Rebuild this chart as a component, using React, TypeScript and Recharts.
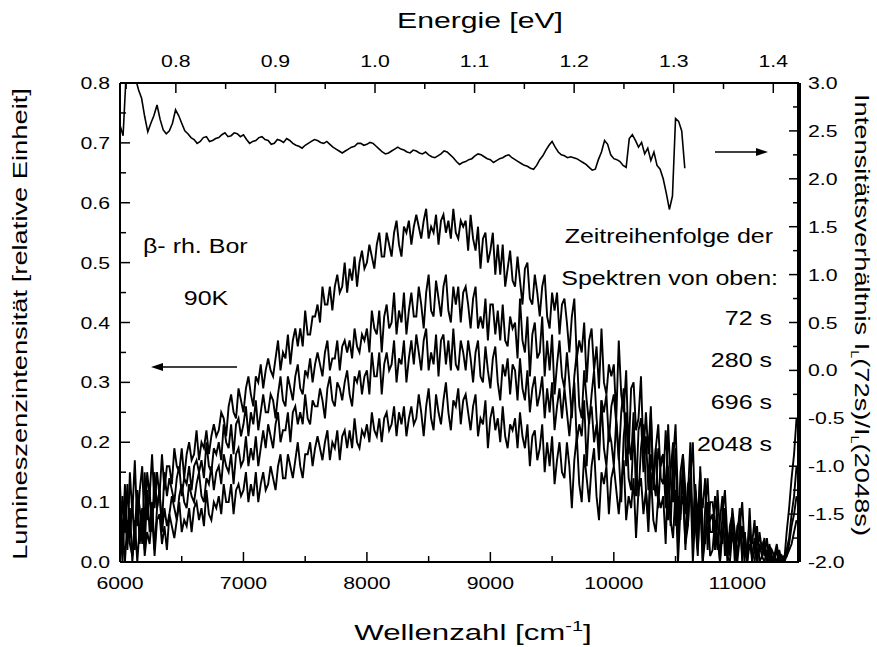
import { Line, LineChart, XAxis, YAxis } from 'recharts'

// wavenumber grid of the spectra (cm^-1)
const WN_START = 6000
const WN_STEP = 20

// luminescence spectra, newest first (relative units), one row = 400 cm^-1
const spec72s = [
  0.13, 0.03, 0.13, 0.02, 0.15, 0.08, 0.17, 0.06, 0.12, 0.16, 0.05, 0.15, 0.11, 0.18, 0.09, 0.15, 0.11, 0.18, 0.12, 0.16,
  0.16, 0.13, 0.19, 0.16, 0.15, 0.19, 0.14, 0.18, 0.2, 0.17, 0.18, 0.22, 0.17, 0.2, 0.19, 0.22, 0.18, 0.21, 0.23, 0.21,
  0.22, 0.25, 0.24, 0.21, 0.26, 0.28, 0.25, 0.24, 0.29, 0.27, 0.25, 0.29, 0.31, 0.28, 0.26, 0.31, 0.3, 0.33, 0.29, 0.32,
  0.34, 0.32, 0.31, 0.34, 0.37, 0.32, 0.35, 0.34, 0.38, 0.33, 0.37, 0.39, 0.36, 0.39, 0.36, 0.42, 0.38, 0.38, 0.41, 0.41,
  0.43, 0.4, 0.46, 0.43, 0.43, 0.46, 0.42, 0.46, 0.48, 0.45, 0.46, 0.5, 0.45, 0.49, 0.47, 0.51, 0.46, 0.5, 0.52, 0.49,
  0.5, 0.53, 0.51, 0.49, 0.53, 0.55, 0.51, 0.51, 0.55, 0.53, 0.51, 0.55, 0.57, 0.53, 0.51, 0.56, 0.55, 0.57, 0.53, 0.56,
  0.58, 0.56, 0.54, 0.57, 0.59, 0.54, 0.56, 0.55, 0.58, 0.53, 0.57, 0.58, 0.55, 0.57, 0.54, 0.59, 0.55, 0.54, 0.57, 0.56,
  0.57, 0.52, 0.58, 0.54, 0.52, 0.56, 0.49, 0.54, 0.55, 0.5, 0.52, 0.55, 0.48, 0.53, 0.48, 0.53, 0.46, 0.49, 0.52, 0.47,
  0.46, 0.51, 0.47, 0.43, 0.49, 0.5, 0.44, 0.43, 0.48, 0.45, 0.41, 0.46, 0.48, 0.41, 0.39, 0.45, 0.42, 0.45, 0.38, 0.43,
  0.44, 0.4, 0.35, 0.41, 0.44, 0.34, 0.37, 0.35, 0.4, 0.3, 0.37, 0.39, 0.32, 0.36, 0.29, 0.39, 0.3, 0.28, 0.33, 0.31,
  0.33, 0.24, 0.37, 0.28, 0.25, 0.32, 0.18, 0.29, 0.3, 0.22, 0.24, 0.31, 0.18, 0.25, 0.18, 0.26, 0.12, 0.19, 0.23, 0.14,
  0.13, 0.22, 0.15, 0.06, 0.17, 0.23, 0.1, 0.07, 0.18, 0.12, 0.06, 0.14, 0.2, 0.07, 0.01, 0.12, 0.09, 0.14, 0.02, 0.1,
  0.1, 0.06, 0.02, 0.07, 0.11, 0.01, 0.05, 0.02, 0.08, 0.0, 0.06, 0.07, 0.01, 0.05, 0.0, 0.09, 0.0, 0.0, 0.04, 0.02,
  0.03, 0.01, 0.04, 0.0, 0.02, 0.01, 0.03, 0.0, 0.01, 0.0, 0.05, 0.09, 0.14, 0.18, 0.24,
]
const spec280s = [
  0.02, 0.11, 0.05, 0.13, 0.04, 0.1, 0.02, 0.12, 0.09, 0.03, 0.15, 0.07, 0.12, 0.05, 0.15, 0.09, 0.12, 0.06, 0.15, 0.11,
  0.14, 0.12, 0.1, 0.14, 0.16, 0.11, 0.14, 0.13, 0.16, 0.12, 0.16, 0.17, 0.15, 0.17, 0.14, 0.2, 0.16, 0.15, 0.19, 0.18,
  0.2, 0.17, 0.23, 0.2, 0.19, 0.23, 0.18, 0.23, 0.24, 0.21, 0.23, 0.26, 0.21, 0.25, 0.23, 0.27, 0.22, 0.25, 0.28, 0.25,
  0.25, 0.28, 0.27, 0.24, 0.28, 0.31, 0.27, 0.26, 0.31, 0.29, 0.27, 0.31, 0.33, 0.29, 0.28, 0.32, 0.31, 0.34, 0.3, 0.33,
  0.35, 0.33, 0.31, 0.35, 0.37, 0.32, 0.34, 0.34, 0.37, 0.32, 0.36, 0.37, 0.35, 0.37, 0.34, 0.39, 0.36, 0.35, 0.38, 0.37,
  0.39, 0.35, 0.42, 0.39, 0.38, 0.42, 0.35, 0.41, 0.43, 0.39, 0.4, 0.45, 0.38, 0.42, 0.4, 0.45, 0.38, 0.42, 0.45, 0.41,
  0.41, 0.46, 0.43, 0.39, 0.45, 0.48, 0.42, 0.41, 0.47, 0.44, 0.41, 0.46, 0.48, 0.42, 0.4, 0.46, 0.43, 0.46, 0.4, 0.45,
  0.46, 0.43, 0.39, 0.44, 0.46, 0.39, 0.41, 0.39, 0.44, 0.37, 0.43, 0.43, 0.38, 0.42, 0.37, 0.43, 0.37, 0.36, 0.41, 0.39,
  0.4, 0.34, 0.44, 0.37, 0.35, 0.41, 0.31, 0.38, 0.4, 0.34, 0.35, 0.41, 0.31, 0.37, 0.32, 0.38, 0.28, 0.33, 0.37, 0.31,
  0.29, 0.35, 0.3, 0.24, 0.31, 0.35, 0.26, 0.24, 0.32, 0.27, 0.23, 0.28, 0.32, 0.24, 0.19, 0.27, 0.25, 0.28, 0.2, 0.26,
  0.28, 0.23, 0.17, 0.25, 0.29, 0.16, 0.21, 0.17, 0.25, 0.11, 0.22, 0.24, 0.15, 0.21, 0.12, 0.25, 0.14, 0.11, 0.19, 0.16,
  0.18, 0.09, 0.23, 0.14, 0.1, 0.19, 0.04, 0.15, 0.18, 0.08, 0.11, 0.2, 0.04, 0.13, 0.07, 0.15, 0.0, 0.09, 0.14, 0.05,
  0.05, 0.11, 0.07, 0.0, 0.08, 0.12, 0.04, 0.01, 0.09, 0.05, 0.01, 0.06, 0.1, 0.02, 0.0, 0.05, 0.03, 0.07, 0.0, 0.05,
  0.02, 0.04, 0.0, 0.03, 0.01, 0.0, 0.02, 0.0, 0.01, 0.0, 0.02, 0.04, 0.08, 0.11, 0.16,
]
const spec696s = [
  0.07, 0.0, 0.09, 0.03, 0.09, 0.0, 0.06, 0.11, 0.03, 0.08, 0.02, 0.12, 0.05, 0.1, 0.02, 0.09, 0.12, 0.05, 0.09, 0.06,
  0.08, 0.11, 0.09, 0.07, 0.11, 0.13, 0.1, 0.09, 0.13, 0.11, 0.1, 0.13, 0.15, 0.11, 0.1, 0.14, 0.13, 0.16, 0.12, 0.15,
  0.16, 0.13, 0.18, 0.16, 0.15, 0.18, 0.13, 0.18, 0.19, 0.16, 0.17, 0.21, 0.16, 0.19, 0.17, 0.21, 0.16, 0.19, 0.22, 0.19,
  0.23, 0.21, 0.19, 0.23, 0.25, 0.2, 0.22, 0.22, 0.25, 0.2, 0.25, 0.26, 0.23, 0.25, 0.23, 0.28, 0.24, 0.23, 0.27, 0.26,
  0.26, 0.29, 0.27, 0.24, 0.29, 0.31, 0.27, 0.26, 0.3, 0.29, 0.27, 0.3, 0.32, 0.28, 0.26, 0.31, 0.3, 0.32, 0.28, 0.31,
  0.32, 0.28, 0.35, 0.31, 0.31, 0.35, 0.28, 0.33, 0.35, 0.32, 0.33, 0.37, 0.3, 0.34, 0.33, 0.37, 0.3, 0.34, 0.37, 0.33,
  0.38, 0.35, 0.32, 0.37, 0.39, 0.32, 0.35, 0.33, 0.38, 0.31, 0.37, 0.38, 0.33, 0.37, 0.32, 0.39, 0.33, 0.32, 0.37, 0.35,
  0.32, 0.37, 0.34, 0.3, 0.35, 0.37, 0.31, 0.3, 0.36, 0.32, 0.29, 0.34, 0.36, 0.3, 0.27, 0.33, 0.31, 0.34, 0.28, 0.33,
  0.32, 0.27, 0.34, 0.29, 0.27, 0.32, 0.25, 0.29, 0.31, 0.26, 0.28, 0.31, 0.24, 0.29, 0.25, 0.3, 0.22, 0.26, 0.29, 0.24,
  0.29, 0.25, 0.21, 0.26, 0.3, 0.2, 0.23, 0.21, 0.27, 0.16, 0.24, 0.26, 0.2, 0.23, 0.17, 0.27, 0.19, 0.16, 0.22, 0.2,
  0.16, 0.24, 0.18, 0.1, 0.21, 0.25, 0.14, 0.12, 0.21, 0.16, 0.11, 0.19, 0.23, 0.12, 0.07, 0.18, 0.14, 0.19, 0.09, 0.17,
  0.18, 0.13, 0.07, 0.15, 0.2, 0.06, 0.11, 0.08, 0.15, 0.02, 0.13, 0.14, 0.06, 0.12, 0.03, 0.16, 0.05, 0.03, 0.1, 0.07,
  0.08, 0.02, 0.12, 0.05, 0.03, 0.09, 0.0, 0.06, 0.08, 0.02, 0.04, 0.09, 0.0, 0.05, 0.01, 0.07, 0.0, 0.02, 0.06, 0.0,
  0.01, 0.03, 0.0, 0.02, 0.0, 0.01, 0.0, 0.02, 0.0, 0.01, 0.01, 0.03, 0.06, 0.08, 0.11,
]
const spec2048s = [
  0.01, 0.06, 0.0, 0.07, 0.03, 0.01, 0.07, 0.0, 0.06, 0.09, 0.01, 0.05, 0.03, 0.08, 0.01, 0.07, 0.08, 0.03, 0.06, 0.02,
  0.08, 0.06, 0.04, 0.07, 0.1, 0.05, 0.07, 0.06, 0.09, 0.05, 0.09, 0.1, 0.07, 0.09, 0.06, 0.12, 0.08, 0.07, 0.1, 0.09,
  0.11, 0.08, 0.13, 0.1, 0.1, 0.13, 0.08, 0.12, 0.13, 0.11, 0.12, 0.15, 0.1, 0.13, 0.11, 0.15, 0.1, 0.13, 0.15, 0.12,
  0.13, 0.16, 0.14, 0.12, 0.16, 0.18, 0.14, 0.14, 0.18, 0.16, 0.14, 0.17, 0.2, 0.16, 0.14, 0.18, 0.18, 0.2, 0.16, 0.19,
  0.21, 0.19, 0.17, 0.2, 0.22, 0.17, 0.2, 0.19, 0.22, 0.17, 0.21, 0.22, 0.19, 0.22, 0.19, 0.24, 0.2, 0.19, 0.22, 0.21,
  0.23, 0.2, 0.25, 0.22, 0.21, 0.24, 0.2, 0.24, 0.25, 0.22, 0.23, 0.26, 0.21, 0.25, 0.23, 0.26, 0.21, 0.24, 0.26, 0.23,
  0.24, 0.28, 0.25, 0.21, 0.26, 0.29, 0.24, 0.22, 0.28, 0.25, 0.23, 0.27, 0.3, 0.25, 0.22, 0.27, 0.26, 0.29, 0.23, 0.27,
  0.28, 0.25, 0.22, 0.26, 0.28, 0.21, 0.24, 0.23, 0.27, 0.19, 0.24, 0.26, 0.22, 0.24, 0.2, 0.26, 0.21, 0.19, 0.23, 0.22,
  0.24, 0.19, 0.25, 0.21, 0.19, 0.23, 0.16, 0.21, 0.22, 0.17, 0.19, 0.23, 0.15, 0.2, 0.16, 0.21, 0.13, 0.17, 0.2, 0.15,
  0.14, 0.2, 0.16, 0.09, 0.17, 0.21, 0.13, 0.1, 0.18, 0.14, 0.1, 0.16, 0.19, 0.11, 0.07, 0.15, 0.13, 0.16, 0.08, 0.14,
  0.16, 0.12, 0.08, 0.13, 0.17, 0.07, 0.11, 0.09, 0.14, 0.04, 0.12, 0.14, 0.08, 0.12, 0.05, 0.15, 0.07, 0.05, 0.11, 0.09,
  0.11, 0.03, 0.16, 0.07, 0.04, 0.12, 0.0, 0.09, 0.11, 0.03, 0.06, 0.14, 0.0, 0.08, 0.02, 0.1, 0.0, 0.04, 0.09, 0.01,
  0.02, 0.07, 0.04, 0.0, 0.05, 0.07, 0.01, 0.0, 0.05, 0.02, 0.0, 0.04, 0.06, 0.0, 0.0, 0.03, 0.01, 0.04, 0.0, 0.03,
  0.01, 0.0, 0.02, 0.0, 0.01, 0.0, 0.0, 0.01, 0.0, 0.0, 0.01, 0.02, 0.03, 0.05, 0.07,
]

// intensity ratio I_L(72s)/I_L(2048s), 25 cm^-1 grid
const RATIO_START = 6000
const RATIO_STEP = 25
const ratio = [
  2.56, 2.45, 3.1, 3.3, 3.2, 3.05, 2.93, 2.84, 2.65, 2.49, 2.58, 2.66, 2.77, 2.62, 2.51, 2.47, 2.5, 2.58, 2.72, 2.66,
  2.58, 2.5, 2.47, 2.43, 2.41, 2.37, 2.39, 2.43, 2.44, 2.39, 2.4, 2.42, 2.43, 2.46, 2.48, 2.44, 2.45, 2.48, 2.47, 2.44,
  2.46, 2.41, 2.37, 2.39, 2.4, 2.43, 2.44, 2.41, 2.4, 2.36, 2.37, 2.41, 2.4, 2.38, 2.42, 2.4, 2.37, 2.35, 2.34, 2.32,
  2.35, 2.37, 2.39, 2.41, 2.4, 2.38, 2.37, 2.39, 2.36, 2.33, 2.31, 2.29, 2.27, 2.29, 2.31, 2.33, 2.34, 2.37, 2.37, 2.35,
  2.36, 2.38, 2.37, 2.34, 2.31, 2.28, 2.26, 2.27, 2.29, 2.31, 2.33, 2.31, 2.3, 2.28, 2.27, 2.3, 2.29, 2.27, 2.26, 2.28,
  2.25, 2.23, 2.22, 2.24, 2.26, 2.29, 2.28, 2.25, 2.22, 2.18, 2.15, 2.17, 2.18, 2.2, 2.21, 2.24, 2.26, 2.25, 2.23, 2.21,
  2.2, 2.17, 2.19, 2.21, 2.22, 2.24, 2.25, 2.22, 2.2, 2.18, 2.16, 2.14, 2.13, 2.11, 2.1, 2.14, 2.2, 2.24, 2.3, 2.35,
  2.39, 2.33, 2.28, 2.25, 2.24, 2.22, 2.23, 2.22, 2.21, 2.19, 2.17, 2.15, 2.12, 2.09, 2.1, 2.2, 2.28, 2.4, 2.36, 2.25,
  2.21, 2.2, 2.18, 2.14, 2.12, 2.42, 2.46, 2.4, 2.33, 2.38, 2.26, 2.32, 2.19, 2.28, 2.14, 2.1, 2.0, 1.85, 1.68, 1.82,
  2.63, 2.6, 2.5, 2.11,
]

const EV = 8065.54 // cm^-1 per eV

const bottomTicks = [6000, 6500, 7000, 7500, 8000, 8500, 9000, 9500, 10000, 10500, 11000, 11500]
const bottomLabels = [6000, 7000, 8000, 9000, 10000, 11000]
const energyTicks = [0.75, 0.8, 0.85, 0.9, 0.95, 1.0, 1.05, 1.1, 1.15, 1.2, 1.25, 1.3, 1.35, 1.4]
const leftTicks = [0, 0.05, 0.1, 0.15, 0.2, 0.25, 0.3, 0.35, 0.4, 0.45, 0.5, 0.55, 0.6, 0.65, 0.7, 0.75, 0.8]
const rightTicks = [-2, -1.75, -1.5, -1.25, -1, -0.75, -0.5, -0.25, 0, 0.25, 0.5, 0.75, 1, 1.25, 1.5, 1.75, 2, 2.25, 2.5, 2.75, 3]

const specRows = spec72s.map((v, i) => ({
  wn: WN_START + i * WN_STEP,
  s72: v,
  s280: spec280s[i],
  s696: spec696s[i],
  s2048: spec2048s[i],
}))
const ratioRows = ratio.map((v, i) => ({ wn: RATIO_START + i * RATIO_STEP, r: v }))

const FONT = '"Liberation Sans", Arial, sans-serif'
const MAJOR = 10
const MINOR = 6

// Origin-style wide lettering
function Label({ x, y, size = 17, anchor = 'start', sx = 1.25, rot = 0, children }: {
  x: number
  y: number
  size?: number
  anchor?: 'start' | 'middle' | 'end'
  sx?: number
  rot?: number
  children: React.ReactNode
}) {
  return (
    <text
      transform={`translate(${x},${y}) rotate(${rot}) scale(${sx},1)`}
      fontSize={size}
      fontFamily={FONT}
      textAnchor={anchor}
      fill="#000"
    >
      {children}
    </text>
  )
}

const near = (a: number, b: number) => Math.abs(a - b) < 1e-6
const isStep = (v: number, step: number) => near(v / step, Math.round(v / step))

type TickProps = { x?: number; y?: number; payload?: { value: number } }

function BottomTick({ x = 0, y = 0, payload }: TickProps) {
  const v = payload?.value ?? 0
  const major = bottomLabels.some((m) => near(m, v))
  return (
    <g>
      <line x1={x} x2={x} y1={y} y2={y - (major ? MAJOR : MINOR)} stroke="#000" strokeWidth={1.5} />
      {major && <Label x={x} y={y + 27} anchor="middle">{v}</Label>}
    </g>
  )
}

function TopTick({ x = 0, y = 0, payload }: TickProps) {
  const e = (payload?.value ?? 0) / EV
  const major = isStep(e, 0.1)
  return (
    <g>
      <line x1={x} x2={x} y1={y} y2={y + (major ? MAJOR : MINOR)} stroke="#000" strokeWidth={1.5} />
      {major && <Label x={x} y={y - 16} anchor="middle">{e.toFixed(1)}</Label>}
    </g>
  )
}

function LeftTick({ x = 0, y = 0, payload }: TickProps) {
  const v = payload?.value ?? 0
  const major = isStep(v, 0.1)
  return (
    <g>
      <line x1={x} x2={x + (major ? MAJOR : MINOR)} y1={y} y2={y} stroke="#000" strokeWidth={1.5} />
      {major && <Label x={x - 10} y={y + 6} anchor="end">{v.toFixed(1)}</Label>}
    </g>
  )
}

function RightTick({ x = 0, y = 0, payload }: TickProps) {
  const v = payload?.value ?? 0
  const major = isStep(v, 0.5)
  return (
    <g>
      <line x1={x} x2={x - (major ? MAJOR : MINOR)} y1={y} y2={y} stroke="#000" strokeWidth={1.5} />
      {major && <Label x={x + 9} y={y + 6}>{v.toFixed(1)}</Label>}
    </g>
  )
}

const axisLine = { stroke: '#000', strokeWidth: 2 }

export default function App() {
  return (
    <div style={{ position: 'absolute', left: 0, top: 0, width: 877, height: 647, background: '#fff' }}>
      <LineChart width={877} height={647} data={specRows} margin={{ top: 0, right: 0, bottom: 0, left: 0 }}>
        <XAxis
          xAxisId="bottom"
          dataKey="wn"
          type="number"
          domain={[6000, 11500]}
          allowDataOverflow
          ticks={bottomTicks}
          interval={0}
          tickSize={0}
          tickMargin={0}
          tick={BottomTick}
          axisLine={axisLine}
          height={85}
        />
        <XAxis
          xAxisId="top"
          orientation="top"
          dataKey="wn"
          type="number"
          domain={[6000, 11500]}
          allowDataOverflow
          ticks={energyTicks.map((e) => e * EV)}
          interval={0}
          tickSize={0}
          tickMargin={0}
          tick={TopTick}
          axisLine={axisLine}
          height={83}
        />
        <YAxis
          yAxisId="left"
          type="number"
          domain={[0, 0.8]}
          allowDataOverflow
          ticks={leftTicks}
          interval={0}
          tickSize={0}
          tickMargin={0}
          tick={LeftTick}
          axisLine={axisLine}
          width={120}
        />
        <YAxis
          yAxisId="right"
          orientation="right"
          type="number"
          domain={[-2, 3]}
          allowDataOverflow
          ticks={rightTicks}
          interval={0}
          tickSize={0}
          tickMargin={0}
          tick={RightTick}
          axisLine={{ stroke: '#000', strokeWidth: 4 }}
          width={78}
        />
        {(['s72', 's280', 's696', 's2048'] as const).map((k) => (
          <Line
            key={k}
            xAxisId="bottom"
            yAxisId="left"
            dataKey={k}
            stroke="#000"
            strokeWidth={1.9}
            strokeLinejoin="miter"
            dot={false}
            isAnimationActive={false}
          />
        ))}
        <Line
          data={ratioRows}
          xAxisId="top"
          yAxisId="right"
          dataKey="r"
          stroke="#000"
          strokeWidth={1.6}
          dot={false}
          isAnimationActive={false}
        />
      </LineChart>

      <svg
        width={877}
        height={647}
        style={{ position: 'absolute', left: 0, top: 0, pointerEvents: 'none' }}
      >
        <Label x={480} y={28} size={22} anchor="middle" sx={1.37}>Energie [eV]</Label>
        <text
          transform="translate(473,640) scale(1.42,1)"
          fontSize={22}
          fontFamily={FONT}
          textAnchor="middle"
          fill="#000"
        >
          Wellenzahl [cm
          <tspan fontSize={14} dy={-9}>-1</tspan>
          <tspan dy={9}>]</tspan>
        </text>
        <Label x={27} y={324} size={21} anchor="middle" sx={1.3} rot={-90}>
          Lumineszenzintensität [relative Einheit]
        </Label>
        <text
          transform="translate(855,315) rotate(90) scale(1.3,1)"
          fontSize={21}
          fontFamily={FONT}
          textAnchor="middle"
          fill="#000"
        >
          Intensitätsverhältnis I
          <tspan fontSize={11} dy={4}>L</tspan>
          <tspan dy={-4}>(72s)/I</tspan>
          <tspan fontSize={11} dy={4}>L</tspan>
          <tspan dy={-4}>(2048s)</tspan>
        </text>

        <Label x={143} y={253} size={20}>β- rh. Bor</Label>
        <Label x={206} y={305} size={20} anchor="middle">90K</Label>

        <Label x={773} y={243} size={20} anchor="end">Zeitreihenfolge der</Label>
        <Label x={778} y={285} size={20} anchor="end">Spektren von oben:</Label>
        <Label x={772} y={325} size={20} anchor="end">72 s</Label>
        <Label x={772} y={367} size={20} anchor="end">280 s</Label>
        <Label x={772} y={409} size={20} anchor="end">696 s</Label>
        <Label x={772} y={451} size={20} anchor="end">2048 s</Label>

        {/* axis-assignment arrows */}
        <line x1={237} y1={367} x2={160} y2={367} stroke="#000" strokeWidth={1.5} />
        <polygon points="151,367 163,363 163,371" fill="#000" />
        <line x1={715} y1={152} x2={758} y2={152} stroke="#000" strokeWidth={1.5} />
        <polygon points="768,152 756,148 756,156" fill="#000" />
      </svg>
    </div>
  )
}
